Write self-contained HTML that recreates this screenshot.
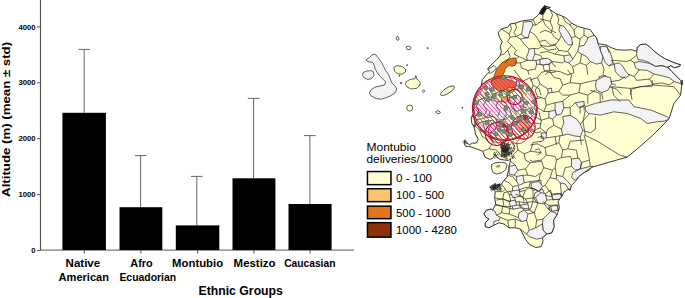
<!DOCTYPE html>
<html><head><meta charset="utf-8"><title>Altitude by ethnic group and Montubio deliveries map</title>
<style>
html,body{margin:0;padding:0;background:#fff;}
body{width:685px;height:298px;overflow:hidden;}
svg{display:block;}
text{font-family:"Liberation Sans",sans-serif;fill:#000;}
.b{font-weight:bold;}
</style></head><body>
<svg width="685" height="298" viewBox="0 0 685 298">
<rect width="685" height="298" fill="#ffffff"/>

<g id="chart">
<line x1="40.5" y1="0" x2="40.5" y2="250.8" stroke="#555" stroke-width="1.15"/>
<line x1="40" y1="250.2" x2="354" y2="250.2" stroke="#7a7a7a" stroke-width="1.2"/>
<line x1="37" y1="250.5" x2="40.5" y2="250.5" stroke="#555" stroke-width="1"/>
<text class="b" x="35.5" y="253.1" font-size="7.7" text-anchor="end">0</text>
<line x1="37" y1="194.6" x2="40.5" y2="194.6" stroke="#555" stroke-width="1"/>
<text class="b" x="35.5" y="197.2" font-size="7.7" text-anchor="end">1000</text>
<line x1="37" y1="138.7" x2="40.5" y2="138.7" stroke="#555" stroke-width="1"/>
<text class="b" x="35.5" y="141.3" font-size="7.7" text-anchor="end">2000</text>
<line x1="37" y1="82.8" x2="40.5" y2="82.8" stroke="#555" stroke-width="1"/>
<text class="b" x="35.5" y="85.4" font-size="7.7" text-anchor="end">3000</text>
<line x1="37" y1="26.9" x2="40.5" y2="26.9" stroke="#555" stroke-width="1"/>
<text class="b" x="35.5" y="29.5" font-size="7.7" text-anchor="end">4000</text>
<line x1="84.2" y1="49.4" x2="84.2" y2="112.8" stroke="#555" stroke-width="0.9"/>
<line x1="78.4" y1="49.4" x2="90.0" y2="49.4" stroke="#555" stroke-width="0.9"/>
<rect x="62.4" y="112.8" width="43.5" height="137.2" fill="#000"/>
<line x1="84.2" y1="250" x2="84.2" y2="253.6" stroke="#555" stroke-width="1"/>
<line x1="140.6" y1="155.6" x2="140.6" y2="207.2" stroke="#555" stroke-width="0.9"/>
<line x1="134.79999999999998" y1="155.6" x2="146.4" y2="155.6" stroke="#555" stroke-width="0.9"/>
<rect x="119.5" y="207.2" width="42.8" height="42.8" fill="#000"/>
<line x1="140.9" y1="250" x2="140.9" y2="253.6" stroke="#555" stroke-width="1"/>
<line x1="196.8" y1="176.4" x2="196.8" y2="225.4" stroke="#555" stroke-width="0.9"/>
<line x1="191.0" y1="176.4" x2="202.60000000000002" y2="176.4" stroke="#555" stroke-width="0.9"/>
<rect x="175.8" y="225.4" width="43.5" height="24.6" fill="#000"/>
<line x1="197.6" y1="250" x2="197.6" y2="253.6" stroke="#555" stroke-width="1"/>
<line x1="253.6" y1="98.4" x2="253.6" y2="178.3" stroke="#555" stroke-width="0.9"/>
<line x1="247.79999999999998" y1="98.4" x2="259.4" y2="98.4" stroke="#555" stroke-width="0.9"/>
<rect x="232.5" y="178.3" width="42.9" height="71.7" fill="#000"/>
<line x1="253.9" y1="250" x2="253.9" y2="253.6" stroke="#555" stroke-width="1"/>
<line x1="309.9" y1="135.6" x2="309.9" y2="204.0" stroke="#555" stroke-width="0.9"/>
<line x1="304.09999999999997" y1="135.6" x2="315.7" y2="135.6" stroke="#555" stroke-width="0.9"/>
<rect x="288.5" y="204.0" width="43.1" height="46.0" fill="#000"/>
<line x1="310.1" y1="250" x2="310.1" y2="253.6" stroke="#555" stroke-width="1"/>
<text class="b" x="82.9" y="267.0" font-size="10.8" text-anchor="middle" textLength="34.6" lengthAdjust="spacingAndGlyphs">Native</text>
<text class="b" x="83.8" y="280.6" font-size="10.8" text-anchor="middle" textLength="50.4" lengthAdjust="spacingAndGlyphs">American</text>
<text class="b" x="141.5" y="267.0" font-size="10.8" text-anchor="middle" textLength="22.4" lengthAdjust="spacingAndGlyphs">Afro</text>
<text class="b" x="147.8" y="280.6" font-size="10.8" text-anchor="middle" textLength="56.8" lengthAdjust="spacingAndGlyphs">Ecuadorian</text>
<text class="b" x="197.6" y="267.0" font-size="10.8" text-anchor="middle" textLength="51" lengthAdjust="spacingAndGlyphs">Montubio</text>
<text class="b" x="254.6" y="267.0" font-size="10.8" text-anchor="middle" textLength="42" lengthAdjust="spacingAndGlyphs">Mestizo</text>
<text class="b" x="309.8" y="267.0" font-size="10.8" text-anchor="middle" textLength="51.2" lengthAdjust="spacingAndGlyphs">Caucasian</text>
<text class="b" x="240.7" y="294.5" font-size="12.8" text-anchor="middle" textLength="84.4" lengthAdjust="spacingAndGlyphs">Ethnic Groups</text>
<text class="b" font-size="11.4" text-anchor="middle" textLength="155" lengthAdjust="spacingAndGlyphs" transform="translate(10.4 119.4) rotate(-90)">Altitude (m) (mean ± std)</text>
</g>
<g id="legend">
<text x="366.5" y="151.1" font-size="11.1" textLength="49.4" lengthAdjust="spacingAndGlyphs">Montubio</text>
<text x="366.5" y="163.0" font-size="11.1" textLength="86" lengthAdjust="spacingAndGlyphs">deliveries/10000</text>
<rect x="367.45" y="171.55" width="23.5" height="13.10" fill="#FFFFD4" stroke="#000" stroke-width="1.5"/>
<text x="396" y="182.3" font-size="11.1" textLength="36" lengthAdjust="spacingAndGlyphs">0 - 100</text>
<rect x="367.45" y="188.75" width="23.5" height="12.90" fill="#FDC36E" stroke="#000" stroke-width="1.5"/>
<text x="396" y="199.3" font-size="11.1" textLength="48.2" lengthAdjust="spacingAndGlyphs">100 - 500</text>
<rect x="367.45" y="206.15" width="23.5" height="12.50" fill="#E5731F" stroke="#000" stroke-width="1.5"/>
<text x="396" y="216.5" font-size="11.1" textLength="54.5" lengthAdjust="spacingAndGlyphs">500 - 1000</text>
<rect x="367.45" y="222.65" width="23.5" height="14.50" fill="#8E3108" stroke="#000" stroke-width="1.5"/>
<text x="396" y="234.0" font-size="11.1" textLength="60.8" lengthAdjust="spacingAndGlyphs">1000 - 4280</text>
</g>
<g id="map" stroke-linejoin="round">
<path d="M366.2 59.7 L369.3 57.7 L372.3 54.8 L375.4 54.2 L377.4 56.9 L379.5 59.7 L381.5 62.4 L383.6 66.5 L385.6 70.6 L388.7 74.7 L390.3 78.8 L391.8 82.9 L394.8 85.9 L396.9 89.0 L394.8 93.1 L390.7 95.8 L385.6 97.8 L381.5 99.2 L376.4 98.6 L371.3 96.2 L369.3 93.1 L371.3 89.6 L375.4 87.0 L380.5 85.9 L384.6 84.9 L385.6 81.8 L382.6 78.8 L379.5 75.7 L377.4 72.6 L375.4 69.6 L374.4 65.5 L372.7 62.4 L369.3 61.8 L367.2 61.4 Z" fill="#F3F3F5" stroke="#3a3a3a" stroke-width="0.8"/>
<path d="M363.1 72.6 L366.2 71.2 L370.3 70.6 L373.4 71.6 L374.0 75.7 L371.3 78.8 L367.2 79.4 L364.1 77.7 L362.5 75.3 Z" fill="#F3F3F5" stroke="#3a3a3a" stroke-width="0.8"/>
<path d="M393.8 67.5 L396.9 65.5 L402.0 66.5 L405.5 69.2 L405.5 72.0 L402.0 74.1 L397.9 73.7 L394.8 71.6 Z" fill="#FFFFCC" stroke="#3a3a3a" stroke-width="0.8"/>
<path d="M406.1 81.8 L410.2 79.4 L414.9 78.8 L415.9 75.7 L416.7 79.0 L418.4 80.2 L420.4 82.9 L419.4 85.9 L416.3 88.4 L411.2 89.0 L407.1 87.0 L405.5 84.3 Z" fill="#FFFFCC" stroke="#3a3a3a" stroke-width="0.8"/>
<path d="M406.1 47.0 L408.8 46.0 L411.2 47.5 L410.2 49.5 L407.1 49.5 Z" fill="#FFFFCC" stroke="#3a3a3a" stroke-width="0.8"/>
<circle cx="407.1" cy="65.1" r="0.6" fill="#555" stroke="#3a3a3a" stroke-width="0.5"/>
<circle cx="399.5" cy="75.7" r="0.6" fill="#555" stroke="#3a3a3a" stroke-width="0.5"/>
<circle cx="401.0" cy="82.9" r="0.9" fill="#777" stroke="#3a3a3a" stroke-width="0.5"/>
<circle cx="423.5" cy="91.1" r="1.3" fill="#ccc" stroke="#3a3a3a" stroke-width="0.5"/>
<circle cx="427.6" cy="48.1" r="0.7" fill="#333" stroke="#3a3a3a" stroke-width="0.5"/>
<ellipse cx="397.6" cy="38.4" rx="1.3" ry="2.0" fill="#FFFFCC" stroke="#3a3a3a" stroke-width="0.8" transform="rotate(-20 397.6 38.4)"/>
<ellipse cx="447.5" cy="90.7" rx="8.0" ry="2.7" fill="#FFFFCC" stroke="#3a3a3a" stroke-width="0.8" transform="rotate(-32 447.5 90.7)"/>
<ellipse cx="409.7" cy="108.1" rx="3.0" ry="3.0" fill="#FFFFCC" stroke="#3a3a3a" stroke-width="0.8" transform="rotate(0 409.7 108.1)"/>
<ellipse cx="438.1" cy="112.2" rx="2.3" ry="1.3" fill="#FFFFCC" stroke="#3a3a3a" stroke-width="0.8" transform="rotate(15 438.1 112.2)"/>
<ellipse cx="462.3" cy="107.8" rx="0.5" ry="0.5" fill="#333" stroke="#3a3a3a" stroke-width="0.8" transform="rotate(0 462.3 107.8)"/>
<defs>
<clipPath id="land"><path d="M544.9 5.5 L541.7 8.8 L539.2 13.8 L535.9 17.1 L532.9 19.6 L524.1 20.6 L520.3 21.4 L515.3 23.1 L510.2 23.9 L507.7 27.2 L501.4 28.9 L498.2 32.7 L499.7 37.7 L502.2 41.5 L500.2 46.5 L501.4 51.5 L500.2 55.3 L497.2 59.1 L493.9 62.4 L490.1 65.9 L487.6 69.2 L489.6 71.7 L486.3 74.9 L482.5 79.4 L481 86.5 L478.5 90 L476.5 93.5 L475 97.5 L474 100.6 L473 105.9 L473.4 110 L474 113 L472 116 L471.2 118.2 L471.9 123.5 L473.5 126 L474.7 128.8 L475.4 134.1 L477 137 L478.2 139.4 L476.5 143 L472.5 143.2 L469.4 144.7 L466.5 142.6 L464.6 141.2 L464.2 143.6 L465.9 146.5 L468.8 146.3 L476.4 148.8 L482.7 151.3 L485 157.1 L489.4 159.3 L492.4 158.6 L494.6 155.6 L496.8 157.1 L499.7 159.3 L504.2 160 L508.6 160.4 L510.8 158.6 L510 162.3 L508.8 166.7 L508.8 170.4 L507.3 174 L507.2 177 L504 180.3 L501.5 184.0 L496.5 185.3 L492.7 186.5 L493.2 189.1 L495.2 191.6 L494.7 197.9 L495.7 204.2 L492.7 209.9 L492.6 210.2 L491.4 208.9 L486.3 210.2 L483.8 214.0 L486.3 217.7 L488.9 219.0 L485.1 222.8 L485.1 226.6 L488.9 227.8 L493.9 225.3 L498.9 222.8 L504.0 224.0 L509.0 227.8 L515.3 227.8 L520.3 229.1 L522.9 234.1 L525.4 239.2 L529.2 244.2 L535.5 247.5 L541.0 246.7 L543.0 241.7 L542.5 237.9 L546.8 234.1 L551.8 232.9 L554.3 226.6 L553.6 220.3 L556.9 215.2 L559.4 207.7 L558.1 201.4 L561.9 196.3 L564.4 191.3 L565.2 191.6 L567.7 189.1 L570.2 190.3 L571.5 185.3 L575.3 181.5 L579.0 176.5 L584.1 172.7 L589.1 170.2 L592.0 167.2 L609.5 162.1 L627.3 157.1 L639.0 147.4 L650.8 137.0 L660.2 127.9 L669.2 118.5 L673.9 103.5 L680.6 95.1 L682.3 80.0 L682.0 84.9 L680.7 80.4 L677.0 76.6 L671.9 71.5 L668.2 67.3 L670.7 65.8 L674.4 67.8 L679.5 66.5 L680.7 64.8 L673.2 62.2 L665.6 59.0 L659.4 55.2 L653.1 50.2 L649.3 46.4 L645.5 43.9 L640.5 44.6 L637.2 47.2 L636.7 51.4 L631.7 49.7 L624.1 50.2 L616.6 49.7 L610.3 47.2 L606.5 45.1 L599.0 43.9 L598.3 44.0 L596.6 37.7 L594.1 35.2 L590.3 29.7 L584.0 28.2 L577.7 26.4 L571.4 23.1 L566.4 18.1 L562.6 16.3 L556.3 13.8 L550.1 9.6 L546.3 6.3 L550.5 7.5 L546.7 8.8 Z"/></clipPath>
</defs>
<path d="M544.9 5.5 L541.7 8.8 L539.2 13.8 L535.9 17.1 L532.9 19.6 L524.1 20.6 L520.3 21.4 L515.3 23.1 L510.2 23.9 L507.7 27.2 L501.4 28.9 L498.2 32.7 L499.7 37.7 L502.2 41.5 L500.2 46.5 L501.4 51.5 L500.2 55.3 L497.2 59.1 L493.9 62.4 L490.1 65.9 L487.6 69.2 L489.6 71.7 L486.3 74.9 L482.5 79.4 L481 86.5 L478.5 90 L476.5 93.5 L475 97.5 L474 100.6 L473 105.9 L473.4 110 L474 113 L472 116 L471.2 118.2 L471.9 123.5 L473.5 126 L474.7 128.8 L475.4 134.1 L477 137 L478.2 139.4 L476.5 143 L472.5 143.2 L469.4 144.7 L466.5 142.6 L464.6 141.2 L464.2 143.6 L465.9 146.5 L468.8 146.3 L476.4 148.8 L482.7 151.3 L485 157.1 L489.4 159.3 L492.4 158.6 L494.6 155.6 L496.8 157.1 L499.7 159.3 L504.2 160 L508.6 160.4 L510.8 158.6 L510 162.3 L508.8 166.7 L508.8 170.4 L507.3 174 L507.2 177 L504 180.3 L501.5 184.0 L496.5 185.3 L492.7 186.5 L493.2 189.1 L495.2 191.6 L494.7 197.9 L495.7 204.2 L492.7 209.9 L492.6 210.2 L491.4 208.9 L486.3 210.2 L483.8 214.0 L486.3 217.7 L488.9 219.0 L485.1 222.8 L485.1 226.6 L488.9 227.8 L493.9 225.3 L498.9 222.8 L504.0 224.0 L509.0 227.8 L515.3 227.8 L520.3 229.1 L522.9 234.1 L525.4 239.2 L529.2 244.2 L535.5 247.5 L541.0 246.7 L543.0 241.7 L542.5 237.9 L546.8 234.1 L551.8 232.9 L554.3 226.6 L553.6 220.3 L556.9 215.2 L559.4 207.7 L558.1 201.4 L561.9 196.3 L564.4 191.3 L565.2 191.6 L567.7 189.1 L570.2 190.3 L571.5 185.3 L575.3 181.5 L579.0 176.5 L584.1 172.7 L589.1 170.2 L592.0 167.2 L609.5 162.1 L627.3 157.1 L639.0 147.4 L650.8 137.0 L660.2 127.9 L669.2 118.5 L673.9 103.5 L680.6 95.1 L682.3 80.0 L682.0 84.9 L680.7 80.4 L677.0 76.6 L671.9 71.5 L668.2 67.3 L670.7 65.8 L674.4 67.8 L679.5 66.5 L680.7 64.8 L673.2 62.2 L665.6 59.0 L659.4 55.2 L653.1 50.2 L649.3 46.4 L645.5 43.9 L640.5 44.6 L637.2 47.2 L636.7 51.4 L631.7 49.7 L624.1 50.2 L616.6 49.7 L610.3 47.2 L606.5 45.1 L599.0 43.9 L598.3 44.0 L596.6 37.7 L594.1 35.2 L590.3 29.7 L584.0 28.2 L577.7 26.4 L571.4 23.1 L566.4 18.1 L562.6 16.3 L556.3 13.8 L550.1 9.6 L546.3 6.3 L550.5 7.5 L546.7 8.8 Z" fill="#FFFFD2" stroke="none"/>
<g clip-path="url(#land)">
<path d="M523.3 22.1 L531.6 21.4 L532.9 25.1 L529.8 31.4 L528.3 37.7 L524.1 37.2 L521.5 33.9 L522.8 27.7 Z" fill="#F3F3F6" stroke="#222" stroke-width="0.7"/>
<path d="M529.1 49.0 L534.1 48.3 L534.9 54.1 L532.4 60.4 L527.3 60.4 L526.6 56.6 L528.3 52.8 Z" fill="#F3F3F6" stroke="#222" stroke-width="0.7"/>
<path d="M535.9 60.4 L542.9 59.1 L550.5 60.4 L550.0 64.1 L542.9 64.9 L536.6 64.1 Z" fill="#F3F3F6" stroke="#222" stroke-width="0.7"/>
<path d="M560.1 25.1 L563.9 26.4 L567.7 31.4 L571.4 37.7 L572.7 44.0 L568.9 45.3 L565.1 41.5 L561.4 35.2 L558.9 30.2 Z" fill="#F3F3F6" stroke="#222" stroke-width="0.7"/>
<path d="M587.8 37.7 L594.1 35.2 L596.6 37.7 L598.3 44.0 L600.4 50.3 L602.9 56.6 L601.6 62.9 L596.6 64.1 L590.3 61.6 L586.5 56.6 L581.5 54.1 L577.7 51.5 L579.0 46.5 L584.0 45.3 L586.5 41.5 Z" fill="#F3F3F6" stroke="#222" stroke-width="0.7"/>
<path d="M600.4 46.5 L605.9 46.5 L609.2 50.3 L611.7 56.6 L612.9 62.9 L609.2 65.9 L605.4 62.9 L602.9 56.6 L600.4 50.3 Z" fill="#F3F3F6" stroke="#222" stroke-width="0.7"/>
<path d="M614.2 64.1 L619.2 62.9 L623.0 66.6 L626.0 71.7 L629.3 75.4 L625.5 78.0 L620.0 76.7 L615.4 71.7 Z" fill="#F3F3F6" stroke="#222" stroke-width="0.7"/>
<path d="M540.0 59.1 L547.5 58.3 L552.6 61.6 L548.8 64.1 L542.5 64.9 L540.0 64.1 Z" fill="#F3F3F6" stroke="#222" stroke-width="0.7"/>
<path d="M563.9 55.8 L570.2 54.8 L572.7 59.1 L568.9 62.9 L564.6 61.6 Z" fill="#F3F3F6" stroke="#222" stroke-width="0.7"/>
<path d="M636.7 51.4 L637.2 47.2 L640.5 44.6 L645.5 43.9 L649.3 46.4 L653.1 50.2 L659.4 55.2 L665.6 59.0 L673.2 62.2 L680.7 64.8 L679.5 66.5 L674.4 67.8 L670.7 65.8 L666.9 67.3 L661.9 65.3 L655.6 66.5 L649.3 62.7 L643.0 60.2 L638.0 59.7 L636.7 55.2 Z" fill="#F3F3F6" stroke="#222" stroke-width="0.7"/>
<path d="M634.2 62.7 L639.2 61.5 L649.3 63.3 L655.6 66.5 L661.9 65.8 L668.2 67.8 L671.9 71.5 L677.0 76.6 L680.7 80.4 L681.5 84.1 L674.4 81.6 L669.4 77.8 L661.9 75.8 L654.3 74.1 L646.8 70.3 L639.2 69.8 L635.5 67.8 Z" fill="#F3F3F6" stroke="#222" stroke-width="0.7"/>
<path d="M599.0 76.6 L605.3 75.3 L610.3 81.6 L609.1 86.6 L602.8 90.4 L599.0 90.4 Z" fill="#F3F3F6" stroke="#222" stroke-width="0.7"/>
<path d="M596.6 80.1 L604.2 76.3 L610.5 77.5 L611.7 83.8 L608.0 90.1 L601.7 92.6 L596.6 90.1 L595.4 85.1 Z" fill="#F3F3F6" stroke="#222" stroke-width="0.7"/>
<path d="M562.7 116.5 L570.2 115.3 L576.5 119.0 L580.3 124.1 L582.8 130.4 L580.3 136.6 L574.0 135.9 L567.7 134.1 L562.7 135.4 L561.4 129.1 L563.9 122.8 Z" fill="#F3F3F6" stroke="#222" stroke-width="0.7"/>
<path d="M555.1 102.7 L562.7 101.4 L563.9 107.7 L561.4 114.0 L556.4 115.3 L555.1 110.2 Z" fill="#F3F3F6" stroke="#222" stroke-width="0.7"/>
<path d="M547.6 88.9 L551.4 88.1 L552.1 92.6 L548.1 93.1 Z" fill="#F3F3F6" stroke="#222" stroke-width="0.7"/>
<path d="M548.9 111.5 L555.1 110.2 L556.4 115.3 L552.6 119.0 L548.9 117.8 Z" fill="#F3F3F6" stroke="#222" stroke-width="0.7"/>
<path d="M541.3 132.9 L546.3 132.9 L546.3 137.9 L541.3 138.4 Z" fill="#F3F3F6" stroke="#222" stroke-width="0.7"/>
<path d="M575.3 102.7 L584.1 101.4 L584.1 106.5 L579.0 107.7 Z" fill="#F3F3F6" stroke="#222" stroke-width="0.7"/>
<path d="M585.3 106.7 L595.4 103.4 L610.5 100.0 L628.9 100.0 L634.0 106.7 L650.8 110.1 L667.5 116.8 L669.2 119.2 L664.2 121.2 L655.8 121.9 L647.4 123.5 L640.7 118.5 L627.3 113.5 L613.8 111.8 L600.4 115.1 L588.7 113.5 L585.3 110.1 Z" fill="#F3F3F6" stroke="#222" stroke-width="0.7"/>
<path d="M509.1 166.4 L515.4 165.2 L517.9 170.2 L514.1 175.2 L509.1 174.0 Z" fill="#F3F3F6" stroke="#222" stroke-width="0.7"/>
<path d="M516.6 176.5 L522.9 175.2 L524.2 182.8 L519.1 185.3 L516.6 181.5 Z" fill="#F3F3F6" stroke="#222" stroke-width="0.7"/>
<path d="M512.8 186.5 L517.9 185.3 L519.9 191.6 L515.4 194.1 L512.3 191.6 Z" fill="#F3F3F6" stroke="#222" stroke-width="0.7"/>
<path d="M530.4 181.5 L541.0 180.3 L541.0 189.1 L533.0 190.3 L529.2 186.5 Z" fill="#F3F3F6" stroke="#222" stroke-width="0.7"/>
<path d="M509.1 194.1 L514.1 195.4 L515.4 200.9 L510.8 201.6 Z" fill="#F3F3F6" stroke="#222" stroke-width="0.7"/>
<path d="M511.6 202.9 L519.1 201.6 L520.4 207.9 L512.8 209.2 Z" fill="#F3F3F6" stroke="#222" stroke-width="0.7"/>
<path d="M571.5 158.9 L579.0 158.1 L581.5 162.7 L580.3 168.9 L575.3 170.2 L571.5 166.4 Z" fill="#F3F3F6" stroke="#222" stroke-width="0.7"/>
<path d="M572.7 172.7 L580.3 168.9 L590.4 166.4 L592.9 166.4 L584.1 172.7 L579.0 176.5 L575.3 180.3 L571.5 177.7 Z" fill="#F3F3F6" stroke="#222" stroke-width="0.7"/>
<path d="M556.4 175.2 L562.7 176.5 L567.7 181.5 L571.5 185.3 L570.2 189.8 L567.7 187.8 L565.2 184.0 L560.2 182.8 L556.4 179.0 Z" fill="#F3F3F6" stroke="#222" stroke-width="0.7"/>
<path d="M551.4 194.1 L561.4 193.3 L562.2 199.1 L552.6 199.9 Z" fill="#F3F3F6" stroke="#222" stroke-width="0.7"/>
<path d="M531.3 182.8 L538.8 181.5 L542.6 186.5 L538.8 191.6 L535.0 189.1 L531.3 187.8 Z" fill="#F3F3F6" stroke="#222" stroke-width="0.7"/>
<path d="M535.0 192.8 L542.6 189.1 L545.1 195.4 L542.6 201.6 L536.3 202.4 L533.8 197.9 Z" fill="#F3F3F6" stroke="#222" stroke-width="0.7"/>
<path d="M548.9 205.4 L557.7 204.9 L558.2 209.9 L549.6 209.9 Z" fill="#F3F3F6" stroke="#222" stroke-width="0.7"/>
<path d="M486.3 210.2 L491.4 208.9 L495.2 211.4 L496.4 215.2 L500.2 217.2 L498.9 220.3 L493.9 221.5 L493.9 225.3 L488.9 227.8 L485.1 226.6 L485.1 222.8 L488.9 219.0 L486.3 217.7 L483.8 214.0 Z" fill="#F3F3F6" stroke="#222" stroke-width="0.7"/>
<path d="M535.5 197.6 L541.0 192.6 L545.5 193.8 L546.8 200.1 L544.3 203.9 L538.0 203.1 Z" fill="#F3F3F6" stroke="#222" stroke-width="0.7"/>
<path d="M551.8 195.1 L560.6 193.8 L561.9 198.9 L553.1 199.6 Z" fill="#F3F3F6" stroke="#222" stroke-width="0.7"/>
<path d="M543.0 219.0 L550.6 211.4 L555.6 212.7 L556.9 215.2 L553.6 220.3 L554.3 226.6 L551.8 232.9 L546.8 234.1 L543.0 230.3 L542.5 224.0 Z" fill="#F3F3F6" stroke="#222" stroke-width="0.7"/>
<path d="M529.2 230.3 L535.5 227.8 L542.5 224.0 L543.0 230.3 L546.8 234.1 L542.5 237.9 L536.7 239.2 L529.2 236.6 L526.6 234.1 Z" fill="#F3F3F6" stroke="#222" stroke-width="0.7"/>
<path d="M519.1 212.7 L524.1 210.2 L527.9 214.0 L526.6 220.3 L521.6 221.5 L518.3 217.7 Z" fill="#F3F3F6" stroke="#222" stroke-width="0.7"/>
<path d="M550.6 206.4 L556.9 205.2 L558.1 210.2 L551.8 211.4 Z" fill="#F3F3F6" stroke="#222" stroke-width="0.7"/>
<path d="M509.0 201.4 L515.3 200.1 L516.6 205.2 L510.3 206.4 Z" fill="#F3F3F6" stroke="#222" stroke-width="0.7"/>
<path d="M510.3 191.3 L519.1 190.0 L520.3 196.3 L512.8 197.6 Z" fill="#F3F3F6" stroke="#222" stroke-width="0.7"/>
<path d="M520.3 205.2 L527.9 203.9 L529.2 210.2 L524.1 210.2 Z" fill="#F3F3F6" stroke="#222" stroke-width="0.7"/>
<path d="M516.1 81.7 L518.6 80.2 L519.8 83.2 L517.6 89.8 L515.4 88.3 L516.9 84.7 Z" fill="#F3F3F6" stroke="#222" stroke-width="0.7"/>
<path d="M488.1 69.2 L494.0 65.5 L496.2 67.7 L494.7 70.6 L490.3 73.3 L487.4 72.1 Z" fill="#F3F3F6" stroke="#222" stroke-width="0.7"/>
<path d="M478.9 100.2 L487.7 96.4 L496.5 98.9 L502.8 105.2 L509.1 107.7 L511.6 114.0 L506.5 119.0 L499.0 120.3 L492.7 116.5 L486.4 117.8 L480.1 112.7 L476.4 106.5 Z" fill="#F3F3F6" stroke="#222" stroke-width="0.7"/>
<path d="M509.1 97.7 L517.9 95.1 L524.2 101.4 L522.9 109.0 L516.6 111.5 L511.6 107.7 Z" fill="#F3F3F6" stroke="#222" stroke-width="0.7"/>
<path d="M482.7 121.5 L492.7 120.3 L497.7 126.6 L492.7 132.9 L485.2 131.6 Z" fill="#F3F3F6" stroke="#222" stroke-width="0.7"/>
<path d="M525.4 110.2 L531.7 107.7 L534.2 114.0 L529.2 119.0 L524.9 116.5 Z" fill="#F3F3F6" stroke="#222" stroke-width="0.7"/>
<path d="M501.5 97.7 L506.5 96.4 L509.1 100.2 L505.3 102.7 L501.5 101.4 Z" fill="#FDBE62" stroke="#222" stroke-width="0.6"/>
<path d="M519.1 120.3 L527.9 119.0 L530.4 124.1 L526.7 130.4 L519.1 131.6 L515.4 126.6 Z" fill="#FDBE62" stroke="#222" stroke-width="0.6"/>
<path d="M506.5 84.7 L509.5 83.6 L513.2 85.4 L514.7 88.3 L513.2 92.0 L509.5 92.8 L507.3 90.6 L505.8 87.6 Z" fill="#FDBE62" stroke="#222" stroke-width="0.6"/>
<path d="M515.7 58.0 L516.7 61.8 L515.3 65.3 L511.9 66.2 L509.2 65.5 L507.1 67.0 L505.2 69.0 L504.5 71.8 L503.0 74.3 L504.2 77.1 L507.3 79.1 L511.7 80.5 L515.8 82.7 L515.3 86.6 L511.7 88.1 L508.8 87.0 L506.5 89.1 L502.1 91.7 L497.3 90.0 L493.3 87.3 L490.9 83.3 L491.9 79.8 L493.9 76.7 L495.2 73.0 L496.7 69.0 L498.9 66.2 L502.0 62.8 L505.4 60.5 L509.6 58.8 L513.2 58.0 Z" fill="#E87218" stroke="#222" stroke-width="0.6"/>
<path d="M522.9 116.5 L526.7 115.3 L527.9 119.0 L524.2 119.8 Z" fill="#9A3A08" stroke="#222" stroke-width="0.5"/>
<path d="M501.0 123.6 L505.3 124.1 L505.8 127.3 L501.5 127.3 Z" fill="#9A3A08" stroke="#222" stroke-width="0.5"/>
<path d="M515.3 23.1 L516.5 27.7 L514.0 32.7 L516.5 36.5 L521.5 33.9 M510.2 23.9 L511.5 28.9 L509.0 33.9 L510.2 37.2 L516.5 36.5 L520.3 39.0 L528.3 37.7 M510.2 37.2 L507.7 41.5 L511.5 45.3 L507.7 50.3 L503.9 54.1 L500.2 55.3 M532.9 19.6 L535.9 25.1 L532.9 25.1 M535.9 25.1 L542.9 20.1 L545.4 25.1 L550.5 30.2 L556.0 32.7 M529.8 31.4 L535.4 35.2 L539.2 41.5 L545.4 40.2 L550.5 45.3 L556.0 44.0 M539.2 41.5 L541.7 46.5 L537.9 49.0 L534.1 48.3 M541.7 46.5 L548.0 50.3 L556.0 49.0 M511.5 45.3 L516.5 50.3 L514.0 54.1 L519.0 56.6 L516.5 58.3 M519.0 56.6 L527.3 60.4 M520.3 39.0 L524.1 44.0 L529.1 49.0 M534.9 54.1 L540.4 55.3 L542.9 59.1 M532.4 60.4 L535.9 60.4 M550.5 60.4 L554.2 65.9 L556.0 66.6 M514.8 62.9 L520.3 62.9 L524.1 61.6 L527.3 60.4 M520.3 62.9 L521.5 67.9 L527.8 70.4 L535.4 69.2 L536.6 64.1 M507.7 50.3 L510.2 56.6 L505.2 62.9 M542.9 15.1 L542.9 20.1 M501.4 28.9 L505.2 31.4 L509.0 33.9 M527.8 70.4 L529.1 74.9 M542.9 64.9 L544.2 70.4 L550.5 72.9 L556.0 71.7 M550.1 9.6 L552.6 15.1 L550.1 21.4 L552.6 27.7 L551.3 32.7 L555.1 37.7 L558.9 40.2 L561.4 35.2 M556.3 13.8 L558.9 18.9 L557.6 23.9 L560.1 25.1 M562.6 16.3 L565.1 21.4 L570.2 25.1 L571.4 23.1 M570.2 25.1 L573.9 30.2 L577.7 26.4 M573.9 30.2 L575.2 36.5 L580.2 39.0 L584.0 35.2 L584.0 28.2 M584.0 35.2 L587.8 37.7 M575.2 36.5 L571.4 37.7 M580.2 39.0 L579.0 46.5 M558.9 40.2 L555.1 45.3 L547.5 46.5 L540.0 45.3 M555.1 45.3 L558.9 50.3 L567.7 51.5 L572.7 44.0 M567.7 51.5 L570.2 54.8 M572.7 59.1 L577.7 51.5 M540.0 52.8 L547.5 51.5 L555.1 54.1 L558.9 50.3 M555.1 54.1 L563.9 55.8 M552.6 61.6 L562.6 62.9 L564.6 61.6 M568.9 62.9 L572.7 66.6 L580.2 62.9 L581.5 54.1 M572.7 66.6 L573.9 72.9 L567.7 74.9 M580.2 62.9 L586.5 65.4 L590.3 61.6 M586.5 65.4 L587.8 74.9 M601.6 62.9 L604.1 69.2 L602.9 74.9 M609.2 65.9 L614.2 64.1 M540.0 32.7 L545.0 30.2 L551.3 32.7 M540.0 18.9 L545.0 20.1 L550.1 21.4 M548.8 64.1 L550.1 70.4 L545.0 74.9 M550.1 70.4 L560.1 71.7 L567.7 74.9 M606.5 45.1 L609.1 52.7 M611.6 60.2 L614.1 64.0 M611.6 60.2 L626.7 61.5 L630.4 60.2 L636.7 55.2 M630.4 60.2 L634.2 62.7 M627.9 74.1 L634.2 76.6 L639.2 69.8 M634.2 76.6 L636.7 80.4 L649.3 79.1 L654.3 74.1 M649.3 79.1 L653.1 84.1 L651.8 86.6 L640.5 86.6 L631.7 89.2 L630.4 94.9 M653.1 84.1 L661.9 82.9 L669.4 84.9 L674.4 81.6 M610.3 81.6 L619.1 80.4 L625.4 76.6 M609.1 86.6 L616.6 89.2 L621.6 94.9 M632.0 100.1 L630.3 88.4 L652.1 85.0 L652.1 80.0 M652.1 85.0 L673.9 86.7 L680.6 95.1 M585.1 105.1 L580.1 106.8 L580.1 113.5 M611.9 86.7 L613.6 95.1 L620.3 101.8 M611.9 86.7 L630.3 88.4 M590.1 90.1 L600.2 93.4 L600.2 102.8 M530.0 80.1 L537.5 77.5 L541.3 72.5 L548.9 70.0 M537.5 77.5 L540.1 83.8 L547.6 88.9 M540.1 83.8 L535.0 90.1 L537.5 96.4 L545.1 98.9 L548.1 93.1 M552.1 92.6 L558.9 91.4 L562.7 85.1 L560.2 78.8 L553.9 77.5 L548.9 70.0 M562.7 85.1 L570.2 82.6 L571.5 75.0 L567.7 70.0 M570.2 82.6 L580.3 83.8 L590.4 81.3 L596.6 80.1 M580.3 83.8 L579.0 92.6 L570.2 95.1 L562.7 101.4 M558.9 91.4 L562.7 95.1 L570.2 95.1 M579.0 92.6 L587.8 95.1 L595.4 90.1 M587.8 95.1 L587.8 103.9 M545.1 98.9 L546.3 105.2 L555.1 102.7 M546.3 105.2 L543.8 111.5 L548.9 111.5 M537.5 96.4 L533.8 102.7 L537.5 107.7 L543.8 111.5 M537.5 107.7 L535.0 116.5 L541.3 120.3 L548.9 117.8 M552.6 119.0 L553.9 125.3 L561.4 129.1 M541.3 120.3 L540.1 127.8 L546.3 132.9 M540.1 127.8 L533.8 130.4 L530.0 129.1 M553.9 125.3 L547.6 129.1 L546.3 132.9 M563.9 107.7 L570.2 107.7 L575.3 102.7 M570.2 107.7 L570.2 115.3 M584.1 106.5 L584.1 110.2 M580.3 124.1 L589.1 114.0 M582.8 130.4 L590.4 132.9 L595.4 129.1 L595.4 116.5 M580.3 136.6 L581.5 144.9 M546.3 137.9 L555.1 136.6 L562.7 135.4 M555.1 136.6 L556.4 144.9 M601.7 92.6 L602.9 99.7 M611.7 83.8 L616.0 85.1 M530.4 77.5 L533.0 85.1 L539.2 88.9 L541.0 95.1 M517.9 75.0 L522.9 81.3 L530.4 77.5 M514.1 70.0 L517.9 75.0 M533.0 85.1 L530.4 93.9 L535.5 98.9 L541.0 97.7 M535.5 98.9 L534.2 107.7 L539.2 112.7 L541.0 120.3 M470.1 80.1 L476.4 85.1 L482.7 83.8 L490.2 78.8 M462.5 100.2 L470.1 97.7 L476.4 102.7 M470.1 97.7 L472.6 90.1 L476.4 85.1 M465.1 117.8 L473.9 116.5 L480.1 112.7 M473.9 116.5 L475.1 125.3 L470.1 131.6 L462.5 132.9 M475.1 125.3 L482.7 121.5 M534.2 122.8 L541.0 124.1 M530.4 130.4 L536.7 132.9 L541.0 131.6 M482.7 151.3 L488.9 148.8 L492.7 142.5 L490.2 135.0 M488.9 148.8 L496.5 150.1 L499.8 153.9 M509.1 160.1 L515.4 165.2 M517.9 170.2 L525.4 168.9 L530.4 162.7 L541.0 161.4 M525.4 168.9 L527.9 175.2 L522.9 175.2 M527.9 175.2 L535.5 176.5 L541.0 172.7 M514.1 175.2 L516.6 176.5 M524.2 182.8 L530.4 181.5 M506.5 175.2 L512.8 176.5 L516.6 181.5 M504.0 180.3 L509.1 182.8 L512.8 186.5 M519.9 191.6 L525.4 190.3 L529.2 186.5 M501.5 184.0 L505.3 189.1 L509.1 194.1 M495.2 191.6 L502.8 191.6 L505.3 189.1 M515.4 194.1 L522.9 196.6 L525.4 190.3 M522.9 196.6 L524.2 202.9 L519.1 201.6 M524.2 202.9 L533.0 201.6 L533.0 190.3 M533.0 201.6 L538.0 202.9 M494.7 197.9 L502.8 199.1 L510.8 201.6 M502.8 199.1 L504.0 206.7 L495.7 204.2 M504.0 206.7 L512.8 209.2 M520.4 207.9 L530.4 209.2 L533.0 201.6 M517.9 150.1 L524.2 153.9 L530.4 151.3 L541.0 152.6 M512.8 155.1 L517.9 150.1 L516.6 142.5 L520.4 137.5 M524.2 153.9 L525.4 160.1 L530.4 162.7 M530.4 151.3 L533.0 142.5 L541.0 141.3 M584.1 135.0 L586.6 145.1 L589.1 157.6 L590.4 166.4 M560.2 135.0 L558.9 142.5 L562.7 150.1 L567.7 148.8 L576.5 150.1 L577.8 158.1 M562.7 150.1 L561.4 157.6 L556.4 160.1 L555.1 167.7 L556.4 175.2 M561.4 157.6 L570.2 156.4 L571.5 158.9 M567.7 148.8 L570.2 141.3 L584.1 140.0 M530.0 145.1 L537.5 143.8 L545.1 147.6 L552.6 145.1 L558.9 142.5 M545.1 147.6 L546.3 155.1 L541.3 160.1 L532.5 161.4 L530.0 160.1 M546.3 155.1 L555.1 156.4 L556.4 160.1 M541.3 160.1 L543.8 167.7 L552.6 170.2 L555.1 167.7 M543.8 167.7 L540.1 175.2 L538.8 181.5 M552.6 170.2 L550.1 177.7 L556.4 179.0 M550.1 177.7 L545.1 185.3 L542.6 186.5 M545.1 185.3 L551.4 194.1 M560.2 182.8 L561.4 193.3 M562.2 199.1 L563.9 197.9 M545.1 195.4 L551.4 196.6 M542.6 201.6 L548.9 205.4 M571.5 166.4 L565.2 167.7 L562.7 176.5 M580.3 168.9 L581.5 162.7 L589.1 160.1 M535.0 150.1 L538.8 148.8 L541.3 152.6 L537.5 155.1 M537.5 137.5 L542.6 136.3 L543.8 140.0 L540.1 142.0 M496.4 200.1 L502.7 198.9 L509.0 201.4 M502.7 198.9 L504.0 192.6 L510.3 191.3 M495.2 205.2 L502.7 206.4 L510.3 206.4 M502.7 206.4 L501.4 212.7 L496.4 215.2 M501.4 212.7 L509.0 214.0 L518.3 217.7 M509.0 214.0 L510.3 206.4 M500.2 217.2 L507.7 220.3 L509.0 227.8 M507.7 220.3 L515.3 219.0 L521.6 221.5 M515.3 219.0 L515.3 227.8 M526.6 220.3 L529.2 230.3 M520.3 229.1 L526.6 234.1 M527.9 214.0 L534.2 212.7 L538.0 203.1 M534.2 212.7 L536.7 220.3 L543.0 219.0 M536.7 220.3 L535.5 227.8 M546.8 200.1 L551.8 199.6 M544.3 203.9 L548.0 208.9 L550.6 206.4 M548.0 208.9 L550.6 211.4 M516.6 205.2 L520.3 205.2 M520.3 196.3 L525.4 198.9 L527.9 203.9 M525.4 198.9 L535.5 197.6 M519.1 190.0 L525.4 187.5 L534.2 188.8 L541.0 192.6 M545.5 193.8 L550.6 190.0 L551.8 195.1 M560.6 193.8 L561.9 196.3 M529.2 210.2 L534.2 212.7 M485.6 100.8 L491.5 99.6 L497.4 102.0 L503.2 100.8 L506.7 104.3 L504.4 109.0 L506.7 113.7 L503.2 117.0 M485.6 100.8 L483.3 105.5 L486.8 110.2 L484.4 114.9 M491.5 99.6 L492.7 94.9 L497.4 92.6 M479.7 93.7 L483.3 97.3 L485.6 100.8 M497.4 102.0 L496.2 106.7 L499.7 111.4 L497.4 117.0 M470.3 97.3 L475.0 98.4 L479.7 93.7 L482.1 89.0 L486.8 85.5 M475.0 98.4 L473.9 105.5 L478.6 110.2 L476.2 116.1 M507.9 89.0 L509.1 96.1 L515.0 100.8 L519.7 105.5 L526.7 107.8 M515.0 100.8 L512.6 107.8 L517.3 114.9 M489.1 86.7 L490.3 91.4 L492.7 94.9 M497.4 92.6 L502.1 90.2 L506.7 92.6 L509.1 96.1 M519.7 105.5 L522.0 111.4 L519.7 117.0 M518.5 84.3 L523.2 91.4 L526.7 94.9 M471.4 115.0 L476.1 119.7 L474.9 125.6 L479.6 130.3 L485.5 131.5 M476.1 119.7 L483.1 118.6 L489.0 115.0 L494.9 117.4 L497.2 122.1 M489.0 115.0 L490.2 110.3 M497.2 122.1 L503.1 120.9 L506.6 115.0 M497.2 122.1 L496.1 128.0 L491.4 131.5 L490.2 137.4 L493.7 142.1 M503.1 120.9 L507.8 124.4 L513.7 125.6 L518.4 122.1 M507.8 124.4 L506.6 130.3 L511.3 135.0 L517.2 133.8 L520.7 137.4 M479.6 130.3 L482.0 136.2 L487.8 139.7 M465.5 117.4 L469.0 119.7 L471.4 115.0 L470.2 110.3 M466.7 125.6 L470.8 124.4 L474.9 125.6 M469.0 132.7 L473.7 131.5 L474.9 125.6 M473.7 131.5 L477.3 137.4 L476.1 142.1 M585.3 110.1 L583.0 121.9 L585.3 135.3 M585.3 135.3 L598.7 142.0 L612.2 150.4 L620.6 155.4 L627.3 157.1" fill="none" stroke="#222" stroke-width="0.68"/>
</g>
<path d="M544.9 5.5 L541.7 8.8 L539.2 13.8 L535.9 17.1 L532.9 19.6 L524.1 20.6 L520.3 21.4 L515.3 23.1 L510.2 23.9 L507.7 27.2 L501.4 28.9 L498.2 32.7 L499.7 37.7 L502.2 41.5 L500.2 46.5 L501.4 51.5 L500.2 55.3 L497.2 59.1 L493.9 62.4 L490.1 65.9 L487.6 69.2 L489.6 71.7 L486.3 74.9 L482.5 79.4 L481 86.5 L478.5 90 L476.5 93.5 L475 97.5 L474 100.6 L473 105.9 L473.4 110 L474 113 L472 116 L471.2 118.2 L471.9 123.5 L473.5 126 L474.7 128.8 L475.4 134.1 L477 137 L478.2 139.4 L476.5 143 L472.5 143.2 L469.4 144.7 L466.5 142.6 L464.6 141.2 L464.2 143.6 L465.9 146.5 L468.8 146.3 L476.4 148.8 L482.7 151.3 L485 157.1 L489.4 159.3 L492.4 158.6 L494.6 155.6 L496.8 157.1 L499.7 159.3 L504.2 160 L508.6 160.4 L510.8 158.6 L510 162.3 L508.8 166.7 L508.8 170.4 L507.3 174 L507.2 177 L504 180.3 L501.5 184.0 L496.5 185.3 L492.7 186.5 L493.2 189.1 L495.2 191.6 L494.7 197.9 L495.7 204.2 L492.7 209.9 L492.6 210.2 L491.4 208.9 L486.3 210.2 L483.8 214.0 L486.3 217.7 L488.9 219.0 L485.1 222.8 L485.1 226.6 L488.9 227.8 L493.9 225.3 L498.9 222.8 L504.0 224.0 L509.0 227.8 L515.3 227.8 L520.3 229.1 L522.9 234.1 L525.4 239.2 L529.2 244.2 L535.5 247.5 L541.0 246.7 L543.0 241.7 L542.5 237.9 L546.8 234.1 L551.8 232.9 L554.3 226.6 L553.6 220.3 L556.9 215.2 L559.4 207.7 L558.1 201.4 L561.9 196.3 L564.4 191.3 L565.2 191.6 L567.7 189.1 L570.2 190.3 L571.5 185.3 L575.3 181.5 L579.0 176.5 L584.1 172.7 L589.1 170.2 L592.0 167.2 L609.5 162.1 L627.3 157.1 L639.0 147.4 L650.8 137.0 L660.2 127.9 L669.2 118.5 L673.9 103.5 L680.6 95.1 L682.3 80.0 L682.0 84.9 L680.7 80.4 L677.0 76.6 L671.9 71.5 L668.2 67.3 L670.7 65.8 L674.4 67.8 L679.5 66.5 L680.7 64.8 L673.2 62.2 L665.6 59.0 L659.4 55.2 L653.1 50.2 L649.3 46.4 L645.5 43.9 L640.5 44.6 L637.2 47.2 L636.7 51.4 L631.7 49.7 L624.1 50.2 L616.6 49.7 L610.3 47.2 L606.5 45.1 L599.0 43.9 L598.3 44.0 L596.6 37.7 L594.1 35.2 L590.3 29.7 L584.0 28.2 L577.7 26.4 L571.4 23.1 L566.4 18.1 L562.6 16.3 L556.3 13.8 L550.1 9.6 L546.3 6.3 L550.5 7.5 L546.7 8.8 Z" fill="none" stroke="#222" stroke-width="0.9"/>
<path d="M491.6 164.5 L495.3 162.7 L501.2 162.3 L505.6 163 L507.1 165.2 L505.6 169.7 L502 172.6 L496.8 174 L493.1 172.6 L491.6 168.9 Z" fill="#FFFFD2" stroke="#222" stroke-width="0.8"/>
<path d="M544.9 5.6 L546.5 8.8 L543 14.8 L539.6 13.8 L542.2 8.8 Z" fill="#111" stroke="#111" stroke-width="0.6"/>
<path d="M502.4 156.5l0.7 -0.6l0.6 0.7 M507.4 149.9l0.4 0.8l-0.8 0.4 M501.8 143.0l0.9 -0.2l0.2 0.9 M511.2 142.5l-0.1 0.6l-0.6 -0.1 M503.7 158.1l1.0 -1.2l1.2 1.0 M500.9 151.4l1.1 -0.3l0.3 1.1 M503.5 149.5l-1.2 -0.7l0.7 -1.2 M506.6 150.7l-0.7 -0.7l0.7 -0.7 M503.6 150.1l-0.5 -1.2l1.2 -0.5 M512.2 151.7l0.4 -0.8l0.8 0.4 M514.4 156.7l-1.0 -0.4l0.4 -1.0 M510.6 154.2l1.1 -0.2l0.2 1.1 M512.1 153.6l-0.5 0.2l-0.2 -0.5 M512.9 156.5l0.0 0.2l-0.2 0.0 M501.0 146.5l0.8 -0.2l0.2 0.8 M502.9 151.6l0.5 0.5l-0.5 0.5 M505.7 149.7l0.0 0.7l-0.7 0.0 M507.8 149.0l-0.0 -1.2l1.2 -0.0 M501.1 154.1l1.3 0.2l-0.2 1.3 M506.0 145.3l0.0 1.3l-1.3 0.0 M511.3 151.4l0.9 -0.7l0.7 0.9 M507.7 158.2l0.2 -0.1l0.1 0.2 M504.3 151.5l1.2 -1.3l1.3 1.2 M511.5 156.0l1.0 0.6l-0.6 1.0 M511.8 151.1l0.2 -0.2l0.2 0.2 M501.3 156.9l0.2 -0.8l0.8 0.2 M507.6 150.5l-0.4 -0.4l0.4 -0.4 M508.0 152.8l0.3 -0.1l0.1 0.3 M500.9 146.3l-0.8 0.2l-0.2 -0.8 M512.6 155.7l0.8 0.8l-0.8 0.8 M504.1 156.4l0.5 -1.1l1.1 0.5 M500.7 142.7l0.7 -0.7l0.7 0.7 M502.0 152.8l-0.4 -1.1l1.1 -0.4 M502.7 151.2l-0.9 -0.6l0.6 -0.9 M510.5 150.0l-0.5 -0.1l0.1 -0.5 M500.8 148.9l-0.2 -0.8l0.8 -0.2 M502.0 157.3l0.0 -0.8l0.8 0.0 M509.0 156.0l-1.2 -1.3l1.3 -1.2 M502.6 154.4l-0.9 0.5l-0.5 -0.9 M510.0 151.5l-0.7 1.2l-1.2 -0.7 M511.7 151.0l-0.7 0.4l-0.4 -0.7 M506.0 152.0l-0.5 0.3l-0.3 -0.5 M501.3 147.4l1.2 1.0l-1.0 1.2 M504.8 156.7l-0.5 1.1l-1.1 -0.5 M510.9 149.4l-0.6 -1.3l1.3 -0.6 M512.8 143.1l0.8 1.2l-1.2 0.8 M508.5 145.3l1.0 1.2l-1.2 1.0 M510.4 150.9l-0.3 -0.4l0.4 -0.3 M503.4 153.6l-0.2 -0.8l0.8 -0.2 M502.0 153.5l-0.5 -0.0l0.0 -0.5 M505.1 156.9l1.0 -1.3l1.3 1.0 M503.3 147.9l1.3 0.7l-0.7 1.3 M505.2 146.0l0.5 0.9l-0.9 0.5 M513.6 148.2l1.0 0.5l-0.5 1.0 M507.3 158.8l-0.7 0.6l-0.6 -0.7 M501.7 145.3l1.1 -0.7l0.7 1.1 M511.1 152.4l0.9 -0.3l0.3 0.9 M505.3 147.3l1.0 0.3l-0.3 1.0 M513.9 157.1l-0.9 0.1l-0.1 -0.9 M502.0 143.1l-1.1 1.0l-1.0 -1.1 M511.5 156.2l-0.4 0.3l-0.3 -0.4 M511.4 148.7l0.2 -0.7l0.7 0.2 M501.6 146.9l1.0 0.2l-0.2 1.0 M513.5 150.1l-0.6 0.7l-0.7 -0.6 M512.1 142.7l0.4 -1.1l1.1 0.4 M502.1 157.1l-1.2 -0.7l0.7 -1.2 M514.3 149.4l-1.0 -0.9l0.9 -1.0 M503.9 154.8l-1.0 1.1l-1.1 -1.0 M505.8 158.5l1.1 -0.5l0.5 1.1 M504.0 150.4l-1.0 0.4l-0.4 -1.0 M501.1 142.7l1.3 -0.5l0.5 1.3 M508.9 149.9l-0.5 -1.1l1.1 -0.5 M513.3 158.5l1.2 -1.0l1.0 1.2 M503.5 152.7l1.2 0.1l-0.1 1.2 M510.1 153.4l-0.6 0.1l-0.1 -0.6 M504.8 146.6l-1.1 -0.6l0.6 -1.1 M514.3 149.9l0.4 0.4l-0.4 0.4 M513.7 148.9l-0.5 -0.4l0.4 -0.5 M504.9 156.5l1.0 -0.5l0.5 1.0 M505.2 151.5l0.2 0.2l-0.2 0.2 M503.9 142.8l-0.7 -1.1l1.1 -0.7 M508.2 143.7l-1.1 0.4l-0.4 -1.1 M504.6 155.6l-0.0 0.9l-0.9 -0.0 M502.7 150.8l0.8 -1.1l1.1 0.8 M513.8 145.4l0.7 1.3l-1.3 0.7 M512.0 147.8l-1.0 0.0l-0.0 -1.0 M513.4 147.3l1.0 -0.9l0.9 1.0 M513.2 143.0l-0.5 1.0l-1.0 -0.5 M511.8 157.5l0.9 0.6l-0.6 0.9 M510.2 145.4l-0.2 -0.9l0.9 -0.2 M510.5 153.5l-0.6 -1.1l1.1 -0.6 M514.0 155.8l0.1 0.1l-0.1 0.1 M512.4 150.0l-0.3 -0.4l0.4 -0.3 M504.1 142.9l0.4 -0.2l0.2 0.4 M508.5 143.5l-0.4 -0.9l0.9 -0.4 M502.3 146.8l0.9 -0.3l0.3 0.9 M506.1 152.6l-0.7 -1.3l1.3 -0.7 M507.9 150.8l0.4 -0.2l0.2 0.4 M510.1 154.6l-0.7 -0.0l0.0 -0.7 M507.2 146.2l-0.2 0.2l-0.2 -0.2 M513.2 157.6l-0.6 0.4l-0.4 -0.6 M501.2 143.7l0.0 1.0l-1.0 0.0 M502.7 155.1l1.0 -0.5l0.5 1.0 M510.2 156.5l-0.3 0.5l-0.5 -0.3 M510.8 152.3l0.9 1.0l-1.0 0.9 M513.9 151.9l-0.8 -0.6l0.6 -0.8 M503.5 151.9l0.7 -1.2l1.2 0.7 M510.0 154.3l-0.4 0.0l-0.0 -0.4 M502.8 154.5l-1.2 1.3l-1.3 -1.2 M511.8 152.9l-0.6 1.1l-1.1 -0.6 M513.9 144.8l0.7 0.9l-0.9 0.7 M509.7 154.1l-0.1 1.1l-1.1 -0.1 M514.1 148.8l0.8 -0.2l0.2 0.8 M502.8 147.9l-1.0 1.1l-1.1 -1.0 M513.9 144.5l0.3 -0.2l0.2 0.3 M502.2 147.4l-0.7 0.6l-0.6 -0.7 M500.6 145.6l-0.2 -1.2l1.2 -0.2 M509.3 152.5l0.9 -0.8l0.8 0.9 M504.5 151.4l-0.6 0.2l-0.2 -0.6 M504.0 153.8l0.8 0.8l-0.8 0.8" fill="none" stroke="#222" stroke-width="0.6"/>
<path d="M508.7 155.3l-1.2 -1.1l1.1 -1.2 M507.8 152.6l0.4 -0.5l0.5 0.4 M506.2 150.9l0.2 -0.9l0.9 0.2 M505.0 148.1l0.6 1.3l-1.3 0.6 M508.6 150.1l-0.1 -0.6l0.6 -0.1 M502.3 143.4l-0.1 -0.5l0.5 -0.1 M504.7 154.6l0.1 0.2l-0.2 0.1 M503.7 143.3l-0.5 -0.9l0.9 -0.5 M505.6 156.0l0.5 -0.8l0.8 0.5 M508.3 153.4l0.6 1.1l-1.1 0.6 M507.3 153.3l-0.4 1.3l-1.3 -0.4 M508.7 145.1l0.7 0.6l-0.6 0.7 M505.2 149.9l-0.0 1.1l-1.1 -0.0 M505.5 153.8l-0.4 1.0l-1.0 -0.4 M508.3 149.0l0.2 1.1l-1.1 0.2 M507.1 149.3l-0.7 -0.5l0.5 -0.7 M506.9 145.2l1.1 -0.6l0.6 1.1 M508.4 147.0l1.2 0.5l-0.5 1.2 M505.5 149.7l0.4 0.2l-0.2 0.4 M504.2 145.7l0.0 1.1l-1.1 0.0 M506.4 144.0l0.8 0.6l-0.6 0.8 M508.4 145.5l0.6 -1.1l1.1 0.6 M506.6 146.6l-0.7 1.0l-1.0 -0.7 M502.7 149.8l0.9 -0.7l0.7 0.9 M503.5 154.4l-0.2 0.6l-0.6 -0.2 M502.2 147.7l-0.9 0.4l-0.4 -0.9 M502.6 155.4l-1.2 0.6l-0.6 -1.2 M502.1 146.3l0.8 -0.9l0.9 0.8 M503.3 152.0l-0.3 -1.2l1.2 -0.3 M508.9 145.0l-1.2 -0.4l0.4 -1.2 M506.3 152.7l-1.0 -0.4l0.4 -1.0 M502.2 148.8l0.7 0.6l-0.6 0.7 M508.3 152.8l0.9 0.5l-0.5 0.9 M505.3 145.9l0.4 -0.5l0.5 0.4 M502.7 148.8l1.0 -1.0l1.0 1.0 M506.1 148.1l0.0 -0.9l0.9 0.0 M508.7 146.4l0.3 -0.2l0.2 0.3 M502.1 150.3l-0.9 -1.2l1.2 -0.9 M502.2 145.1l-1.1 0.4l-0.4 -1.1 M505.6 155.8l1.1 1.3l-1.3 1.1 M503.6 148.8l-0.6 0.2l-0.2 -0.6 M506.4 153.4l0.5 -0.6l0.6 0.5 M505.0 149.8l-1.3 -1.2l1.2 -1.3 M504.9 144.4l0.6 -0.7l0.7 0.6 M502.7 145.4l-0.7 -0.7l0.7 -0.7 M505.6 149.0l-0.5 0.4l-0.4 -0.5 M503.5 154.8l1.2 0.6l-0.6 1.2 M505.0 149.6l0.2 -1.2l1.2 0.2 M504.9 149.8l-0.8 -1.1l1.1 -0.8 M507.6 147.8l0.0 1.1l-1.1 0.0 M506.3 146.8l1.3 -0.3l0.3 1.3 M502.1 151.9l-1.0 -0.5l0.5 -1.0 M507.9 151.7l-1.3 -0.1l0.1 -1.3 M504.9 149.3l-0.8 0.2l-0.2 -0.8 M502.5 146.7l-0.3 1.1l-1.1 -0.3 M502.5 152.8l-0.8 0.2l-0.2 -0.8 M504.7 149.0l0.7 -0.3l0.3 0.7 M502.9 144.6l-1.1 0.9l-0.9 -1.1 M506.5 155.5l0.5 -1.2l1.2 0.5 M506.6 153.1l0.6 -0.0l0.0 0.6 M504.5 148.9l0.8 -0.6l0.6 0.8 M505.7 149.2l1.2 0.8l-0.8 1.2 M508.5 153.9l-0.5 -0.7l0.7 -0.5 M505.4 146.4l-0.2 0.5l-0.5 -0.2 M508.4 150.6l0.8 -1.1l1.1 0.8 M504.5 156.0l-0.9 -0.2l0.2 -0.9 M502.5 144.1l1.0 1.3l-1.3 1.0 M506.5 144.7l-0.5 -0.7l0.7 -0.5 M506.7 151.9l-0.2 0.1l-0.1 -0.2 M502.8 150.0l1.2 0.7l-0.7 1.2 M502.7 149.7l0.6 -0.6l0.6 0.6 M508.3 149.0l0.5 -0.2l0.2 0.5 M509.0 153.2l0.2 -0.9l0.9 0.2 M505.1 143.4l0.2 1.0l-1.0 0.2 M503.3 149.6l-0.0 -0.2l0.2 -0.0 M507.0 155.2l0.5 -0.1l0.1 0.5 M508.7 147.3l0.6 0.4l-0.4 0.6 M507.3 154.1l-0.7 0.3l-0.3 -0.7 M504.8 151.7l1.2 0.4l-0.4 1.2 M502.1 149.0l0.6 1.0l-1.0 0.6 M506.6 153.6l-1.3 1.2l-1.2 -1.3 M507.1 150.9l1.1 1.0l-1.0 1.1 M502.7 153.6l0.7 -0.8l0.8 0.7 M507.2 150.6l-0.8 0.8l-0.8 -0.8 M503.0 151.0l-0.2 -0.6l0.6 -0.2 M506.0 149.1l-0.8 1.2l-1.2 -0.8 M502.5 143.0l-0.0 0.9l-0.9 -0.0 M506.6 152.8l-0.0 0.5l-0.5 -0.0 M504.3 146.5l0.0 -1.2l1.2 0.0 M502.6 152.8l-0.8 0.7l-0.7 -0.8 M507.5 148.3l0.5 0.7l-0.7 0.5 M508.0 144.8l-0.9 -0.3l0.3 -0.9 M505.3 146.8l-1.3 0.1l-0.1 -1.3 M508.8 147.8l0.1 -0.3l0.3 0.1 M505.1 154.3l-0.5 0.4l-0.4 -0.5 M505.4 150.0l1.1 -1.1l1.1 1.1 M507.8 147.0l0.4 0.8l-0.8 0.4 M506.6 148.1l0.9 -1.1l1.1 0.9 M506.4 148.1l0.1 0.9l-0.9 0.1 M507.6 151.2l-0.5 -0.7l0.7 -0.5 M505.2 146.0l-0.6 1.2l-1.2 -0.6 M502.8 153.6l-0.3 -0.4l0.4 -0.3 M504.2 144.0l-0.1 -0.9l0.9 -0.1 M505.1 146.8l1.0 1.1l-1.1 1.0 M505.1 151.3l1.1 -0.5l0.5 1.1 M502.7 146.1l-0.8 0.5l-0.5 -0.8 M504.6 147.6l0.8 -0.7l0.7 0.8 M507.7 151.2l-0.3 0.8l-0.8 -0.3 M504.4 154.4l1.1 0.0l-0.0 1.1 M506.8 155.3l0.6 0.7l-0.7 0.6" fill="none" stroke="#222" stroke-width="0.6"/>
<path d="M507.0 151.6l-0.0 -0.6l0.6 -0.0 M503.0 150.3l-0.1 0.7l-0.7 -0.1 M504.9 151.2l-0.6 0.8l-0.8 -0.6 M506.6 148.3l0.1 0.5l-0.5 0.1 M504.0 149.4l0.8 -0.6l0.6 0.8 M507.0 150.5l0.9 -0.4l0.4 0.9 M503.5 151.4l0.8 -0.1l0.1 0.8 M503.5 146.6l0.4 -0.5l0.5 0.4 M507.8 149.7l-0.8 0.4l-0.4 -0.8 M504.8 152.5l1.1 0.0l-0.0 1.1 M506.2 150.6l0.8 1.2l-1.2 0.8 M503.1 147.9l0.3 -0.5l0.5 0.3 M505.9 145.7l1.0 0.1l-0.1 1.0 M503.6 150.3l-0.5 -0.8l0.8 -0.5 M505.4 146.1l-0.8 1.0l-1.0 -0.8 M506.5 145.1l0.7 -1.3l1.3 0.7 M504.7 152.2l0.3 -0.5l0.5 0.3 M504.9 148.1l-1.0 1.3l-1.3 -1.0 M503.3 148.4l0.6 -0.3l0.3 0.6 M507.9 147.0l1.2 1.0l-1.0 1.2 M506.4 152.1l-0.1 0.9l-0.9 -0.1 M507.0 149.1l-0.1 0.5l-0.5 -0.1 M505.0 145.7l0.6 -0.6l0.6 0.6 M505.4 151.3l-0.9 -1.2l1.2 -0.9 M503.6 149.7l-0.4 -0.6l0.6 -0.4 M505.3 152.4l-0.6 -0.2l0.2 -0.6 M507.4 149.9l-0.6 -0.1l0.1 -0.6 M505.4 146.1l-0.3 -0.5l0.5 -0.3 M507.0 147.6l0.4 1.2l-1.2 0.4 M507.6 148.0l0.3 -0.5l0.5 0.3 M505.0 148.9l0.8 1.1l-1.1 0.8 M504.5 145.0l-0.1 -1.2l1.2 -0.1 M503.2 151.2l-1.0 0.6l-0.6 -1.0 M504.8 152.5l0.9 -1.1l1.1 0.9 M504.0 152.6l0.3 -0.2l0.2 0.3 M506.9 151.5l-0.0 -0.1l0.1 -0.0 M503.5 147.9l-0.9 0.3l-0.3 -0.9 M506.0 146.2l0.3 -1.0l1.0 0.3 M503.5 150.2l-0.1 1.0l-1.0 -0.1 M506.1 150.6l-1.0 0.9l-0.9 -1.0 M503.4 149.9l1.1 1.1l-1.1 1.1 M507.5 148.6l0.5 0.8l-0.8 0.5 M503.7 152.5l1.1 -0.2l0.2 1.1 M506.9 148.6l-0.6 0.6l-0.6 -0.6 M503.3 151.4l1.2 -0.6l0.6 1.2 M507.7 145.7l0.9 -0.6l0.6 0.9 M507.8 148.4l1.1 -1.2l1.2 1.1 M503.4 151.5l0.4 0.1l-0.1 0.4 M503.2 146.4l-0.3 -1.2l1.2 -0.3 M508.0 151.1l1.2 0.5l-0.5 1.2" fill="none" stroke="#222" stroke-width="0.6"/>
<path d="M497.0 154.9l-0.9 1.0l-1.0 -0.9 M494.0 155.7l1.0 -1.1l1.1 1.0 M497.6 156.3l-1.2 -0.3l0.3 -1.2 M498.6 155.4l0.6 -0.9l0.9 0.6 M495.5 153.4l0.0 1.1l-1.1 0.0 M497.8 157.3l-0.3 0.6l-0.6 -0.3 M494.7 154.4l0.5 0.6l-0.6 0.5 M496.7 153.2l-0.6 -0.8l0.8 -0.6 M495.8 157.5l-0.8 1.0l-1.0 -0.8 M499.7 153.0l-0.3 -0.0l0.0 -0.3 M494.2 155.2l1.1 -1.0l1.0 1.1 M497.9 153.4l0.2 1.0l-1.0 0.2 M495.3 152.7l-1.1 0.1l-0.1 -1.1 M494.1 153.2l-0.0 1.1l-1.1 -0.0" fill="none" stroke="#222" stroke-width="0.6"/>
<path d="M497.7 166.3l0.2 -0.8l0.8 0.2 M498.4 167.5l0.4 -0.9l0.9 0.4 M497.6 166.0l-0.7 1.2l-1.2 -0.7 M499.0 165.1l0.9 0.3l-0.3 0.9 M497.1 165.9l0.5 -0.1l0.1 0.5" fill="none" stroke="#222" stroke-width="0.6"/>
<path d="M493.9 187.0l-0.3 0.3l-0.3 -0.3 M497.8 184.4l-1.3 0.9l-0.9 -1.3 M494.1 185.3l1.3 -0.1l0.1 1.3 M499.9 186.6l0.4 -0.9l0.9 0.4 M497.8 188.8l0.1 0.6l-0.6 0.1 M498.2 184.4l0.7 0.2l-0.2 0.7 M494.5 184.2l1.0 -0.1l0.1 1.0 M498.7 188.8l0.6 1.1l-1.1 0.6 M495.4 188.4l-0.1 1.1l-1.1 -0.1 M500.3 184.5l-0.9 -0.7l0.7 -0.9 M501.2 186.4l0.3 -0.5l0.5 0.3 M496.6 186.1l-0.4 0.2l-0.2 -0.4 M497.3 189.0l0.5 1.1l-1.1 0.5 M500.1 189.5l0.4 -0.9l0.9 0.4 M500.1 189.3l1.1 0.2l-0.2 1.1 M498.6 185.2l0.9 0.2l-0.2 0.9 M494.3 184.3l0.9 1.3l-1.3 0.9 M492.4 188.4l-0.2 -0.9l0.9 -0.2 M494.4 188.2l1.0 -1.2l1.2 1.0 M497.6 184.2l0.6 -0.4l0.4 0.6 M500.3 189.4l0.0 1.3l-1.3 0.0 M494.6 184.4l0.3 -1.2l1.2 0.3 M493.5 186.2l0.3 -0.9l0.9 0.3 M491.9 188.8l-0.5 1.2l-1.2 -0.5 M500.5 186.1l-0.1 0.1l-0.1 -0.1 M497.9 187.3l0.2 0.3l-0.3 0.2 M500.9 186.8l-0.2 0.6l-0.6 -0.2 M493.9 185.7l1.2 0.1l-0.1 1.2 M497.0 184.1l-0.2 0.2l-0.2 -0.2 M491.7 187.4l0.3 -1.1l1.1 0.3 M497.8 186.6l0.5 -0.4l0.4 0.5 M498.6 188.1l-1.2 -1.1l1.1 -1.2 M498.3 189.3l-0.6 -0.1l0.1 -0.6 M497.4 185.8l-0.4 -0.5l0.5 -0.4 M495.2 187.3l-0.5 -0.3l0.3 -0.5 M499.2 184.1l0.2 0.6l-0.6 0.2 M494.6 185.2l0.8 -0.7l0.7 0.8 M493.4 186.4l0.5 -1.0l1.0 0.5 M494.7 185.8l0.9 -0.2l0.2 0.9 M500.1 184.9l-0.4 0.4l-0.4 -0.4 M500.3 186.5l-0.7 -1.0l1.0 -0.7 M496.8 185.0l0.8 0.9l-0.9 0.8 M493.3 185.5l0.8 0.4l-0.4 0.8 M499.6 185.9l-1.0 -0.5l0.5 -1.0 M499.4 185.5l-0.4 -0.2l0.2 -0.4 M495.7 186.3l1.1 -0.9l0.9 1.1 M491.5 189.2l1.0 1.3l-1.3 1.0 M495.8 189.2l1.1 -0.7l0.7 1.1 M499.0 188.6l0.4 0.0l-0.0 0.4 M494.4 185.9l-0.7 -1.1l1.1 -0.7 M497.4 185.6l0.8 -1.2l1.2 0.8 M500.5 187.8l1.1 1.0l-1.0 1.1 M500.5 187.2l-1.3 0.6l-0.6 -1.3 M493.2 185.6l0.4 0.1l-0.1 0.4 M495.6 189.2l0.3 -0.4l0.4 0.3 M494.0 188.7l-0.1 0.7l-0.7 -0.1 M495.0 185.1l0.1 0.8l-0.8 0.1 M493.2 188.4l1.1 0.8l-0.8 1.1 M499.7 184.0l0.3 0.9l-0.9 0.3 M492.0 185.5l-0.6 0.1l-0.1 -0.6" fill="none" stroke="#222" stroke-width="0.6"/>
<path d="M496.0 187.7l0.8 1.2l-1.2 0.8 M496.9 188.3l-1.2 -0.1l0.1 -1.2 M498.5 187.4l1.0 -1.0l1.0 1.0 M494.8 186.2l0.1 0.2l-0.2 0.1 M491.1 186.2l-0.6 1.1l-1.1 -0.6 M497.1 186.0l0.8 -0.9l0.9 0.8 M495.9 185.9l-1.3 1.0l-1.0 -1.3 M492.7 186.1l1.3 1.0l-1.0 1.3 M493.3 188.4l0.1 0.5l-0.5 0.1 M492.6 188.3l0.5 1.2l-1.2 0.5 M498.1 186.4l-0.4 -0.9l0.9 -0.4 M492.2 185.7l-0.5 0.3l-0.3 -0.5 M491.0 187.5l-0.4 -0.5l0.5 -0.4 M497.5 186.9l-0.5 -0.0l0.0 -0.5 M496.6 185.7l1.2 -1.2l1.2 1.2 M497.0 188.0l-1.3 0.7l-0.7 -1.3 M493.9 187.2l-1.3 -1.2l1.2 -1.3 M492.4 188.4l-0.8 0.7l-0.7 -0.8 M498.4 188.3l-0.4 -0.4l0.4 -0.4 M495.2 187.8l-1.0 0.6l-0.6 -1.0 M497.4 188.1l-1.2 1.2l-1.2 -1.2 M491.7 186.5l0.3 1.1l-1.1 0.3 M493.7 188.3l0.1 -0.5l0.5 0.1 M493.5 186.0l-1.1 -0.9l0.9 -1.1 M496.5 188.5l-0.9 -1.2l1.2 -0.9 M498.9 187.1l-0.2 -0.7l0.7 -0.2 M495.8 188.0l-0.1 -0.2l0.2 -0.1 M491.4 188.2l-1.2 -0.0l0.0 -1.2 M497.7 185.9l0.6 1.2l-1.2 0.6 M496.0 187.9l-1.0 -0.2l0.2 -1.0 M492.2 188.0l-0.5 -0.1l0.1 -0.5 M499.0 188.1l1.2 -0.1l0.1 1.2 M494.9 187.7l-0.1 -0.5l0.5 -0.1 M494.2 185.9l-0.3 1.3l-1.3 -0.3 M498.7 187.4l-0.0 -0.4l0.4 -0.0 M491.7 186.3l0.7 1.0l-1.0 0.7 M493.9 187.9l0.7 0.5l-0.5 0.7 M496.3 187.8l-0.4 0.5l-0.5 -0.4 M493.2 187.0l0.7 0.5l-0.5 0.7 M493.4 188.3l0.4 0.2l-0.2 0.4 M491.1 187.1l-0.6 0.4l-0.4 -0.6 M494.7 188.0l0.4 0.8l-0.8 0.4 M493.8 187.4l0.6 0.9l-0.9 0.6 M493.8 188.0l1.0 0.5l-0.5 1.0 M498.8 188.4l0.0 0.1l-0.1 0.0 M492.3 188.0l1.1 -0.1l0.1 1.1 M496.5 187.7l0.6 -0.9l0.9 0.6 M497.2 187.2l0.4 -0.2l0.2 0.4 M496.0 187.8l0.4 0.6l-0.6 0.4 M491.2 186.0l-0.2 0.4l-0.4 -0.2" fill="none" stroke="#222" stroke-width="0.6"/>
<path d="M464.4 141.1l-0.3 -0.9l0.9 -0.3 M464.0 142.0l1.1 0.8l-0.8 1.1 M465.7 141.5l0.1 -0.6l0.6 0.1 M464.2 141.1l-0.7 1.1l-1.1 -0.7 M465.9 143.2l0.8 -0.8l0.8 0.8 M464.6 142.7l0.6 0.9l-0.9 0.6 M466.0 141.1l0.3 0.4l-0.4 0.3 M465.1 141.3l-0.1 -1.1l1.1 -0.1 M466.1 143.4l0.1 -0.5l0.5 0.1 M466.1 142.5l1.0 0.9l-0.9 1.0" fill="none" stroke="#222" stroke-width="0.6"/>
<path d="M476.2 123.3L486.4 134.8M473.3 115.7L493.7 138.5M472.5 110.4L498.9 140.0M472.5 105.9L503.3 140.5M473.0 102.1L507.2 140.4M473.8 98.6L510.7 140.0M474.9 95.5L513.9 139.2M476.3 92.6L516.9 138.1M477.9 90.0L519.7 136.9M479.7 87.6L522.3 135.4M481.7 85.4L524.7 133.7M483.8 83.4L527.0 131.7M486.1 81.6L529.0 129.6M488.6 80.0L530.9 127.3M491.3 78.6L532.6 124.8M494.2 77.5L534.0 122.1M497.3 76.6L535.3 119.1M500.7 76.0L536.3 115.8M504.4 75.7L536.9 112.1M508.5 75.9L537.2 108.0M513.3 76.8L536.8 103.2M519.2 79.1L535.2 97.0" fill="none" stroke="#DE2A8E" stroke-width="0.88"/>
<path d="M486.7 139.5L490.2 143.4M485.3 133.5L496.0 145.5M486.0 129.9L499.6 145.1M487.5 127.2L502.5 144.0M489.6 125.1L504.9 142.2M492.1 123.5L506.7 139.9M495.2 122.6L507.9 136.9M499.3 122.8L508.2 132.8" fill="none" stroke="#DE2A8E" stroke-width="0.88"/>
<path d="M511.6 127.8L521.6 139.0M512.1 123.9L525.5 138.9M513.4 121.0L528.5 137.9M515.3 118.7L531.0 136.3M517.7 117.0L533.0 134.1M520.6 115.8L534.5 131.4M524.3 115.5L535.2 127.8M529.9 117.5L533.9 121.9" fill="none" stroke="#DE2A8E" stroke-width="0.88"/>
<circle cx="504.8" cy="108.1" r="32.4" fill="none" stroke="#B80F36" stroke-width="1.1"/>
<circle cx="505.2" cy="108.4" r="31.2" fill="none" stroke="#B80F36" stroke-width="0.8"/>
<circle cx="496.8" cy="134.0" r="11.5" fill="none" stroke="#B80F36" stroke-width="1.1"/>
<circle cx="498.6" cy="132.2" r="10.4" fill="none" stroke="#B80F36" stroke-width="0.8"/>
<circle cx="523.4" cy="127.3" r="11.8" fill="none" stroke="#B80F36" stroke-width="1.1"/>
<circle cx="517.6" cy="132.5" r="11.2" fill="none" stroke="#B80F36" stroke-width="0.8"/>
<circle cx="514.7" cy="97.0" r="7.6" fill="none" stroke="#B80F36" stroke-width="1.1"/>
<circle cx="503.2" cy="77.3" r="2.05" fill="#6C9972" stroke="#42624A" stroke-width="0.6"/>
<circle cx="521.8" cy="86.7" r="2.05" fill="#6C9972" stroke="#42624A" stroke-width="0.6"/>
<circle cx="528.2" cy="89.3" r="2.05" fill="#6C9972" stroke="#42624A" stroke-width="0.6"/>
<circle cx="533.7" cy="101.8" r="2.05" fill="#6C9972" stroke="#42624A" stroke-width="0.6"/>
<circle cx="526.5" cy="102.9" r="2.05" fill="#6C9972" stroke="#42624A" stroke-width="0.6"/>
<circle cx="522.2" cy="99.4" r="2.05" fill="#6C9972" stroke="#42624A" stroke-width="0.6"/>
<circle cx="514.7" cy="97.3" r="2.05" fill="#6C9972" stroke="#42624A" stroke-width="0.6"/>
<circle cx="508.1" cy="93.4" r="2.05" fill="#6C9972" stroke="#42624A" stroke-width="0.6"/>
<circle cx="500.8" cy="94.4" r="2.05" fill="#6C9972" stroke="#42624A" stroke-width="0.6"/>
<circle cx="494.4" cy="95.5" r="2.05" fill="#6C9972" stroke="#42624A" stroke-width="0.6"/>
<circle cx="505.7" cy="108.4" r="2.05" fill="#6C9972" stroke="#42624A" stroke-width="0.6"/>
<circle cx="485.8" cy="88.1" r="2.05" fill="#6C9972" stroke="#42624A" stroke-width="0.6"/>
<circle cx="492.1" cy="89.6" r="2.05" fill="#6C9972" stroke="#42624A" stroke-width="0.6"/>
<circle cx="486.8" cy="94" r="2.05" fill="#6C9972" stroke="#42624A" stroke-width="0.6"/>
<circle cx="521.4" cy="87.3" r="2.05" fill="#6C9972" stroke="#42624A" stroke-width="0.6"/>
<circle cx="488.2" cy="99.6" r="2.05" fill="#6C9972" stroke="#42624A" stroke-width="0.6"/>
<circle cx="476" cy="102.5" r="2.05" fill="#6C9972" stroke="#42624A" stroke-width="0.6"/>
<circle cx="479.7" cy="114.3" r="2.05" fill="#6C9972" stroke="#42624A" stroke-width="0.6"/>
<circle cx="524.1" cy="111.3" r="2.05" fill="#6C9972" stroke="#42624A" stroke-width="0.6"/>
<circle cx="487.2" cy="122.7" r="2.05" fill="#6C9972" stroke="#42624A" stroke-width="0.6"/>
<circle cx="512.2" cy="117.4" r="2.05" fill="#6C9972" stroke="#42624A" stroke-width="0.6"/>
<circle cx="519.5" cy="118.6" r="2.05" fill="#6C9972" stroke="#42624A" stroke-width="0.6"/>
<circle cx="514.8" cy="123.3" r="2.05" fill="#6C9972" stroke="#42624A" stroke-width="0.6"/>
<circle cx="500.7" cy="125" r="2.05" fill="#6C9972" stroke="#42624A" stroke-width="0.6"/>
<circle cx="509.5" cy="128" r="2.05" fill="#6C9972" stroke="#42624A" stroke-width="0.6"/>
<circle cx="499.3" cy="129.7" r="2.05" fill="#6C9972" stroke="#42624A" stroke-width="0.6"/>
<circle cx="503.7" cy="131.5" r="2.05" fill="#6C9972" stroke="#42624A" stroke-width="0.6"/>
<circle cx="496" cy="134.1" r="2.05" fill="#6C9972" stroke="#42624A" stroke-width="0.6"/>
<circle cx="510.1" cy="134.4" r="2.05" fill="#6C9972" stroke="#42624A" stroke-width="0.6"/>
<circle cx="527" cy="121" r="2.05" fill="#6C9972" stroke="#42624A" stroke-width="0.6"/>
<circle cx="523.6" cy="129.5" r="2.05" fill="#6C9972" stroke="#42624A" stroke-width="0.6"/>
<circle cx="531" cy="112" r="2.05" fill="#6C9972" stroke="#42624A" stroke-width="0.6"/>
</g>
</svg></body></html>
